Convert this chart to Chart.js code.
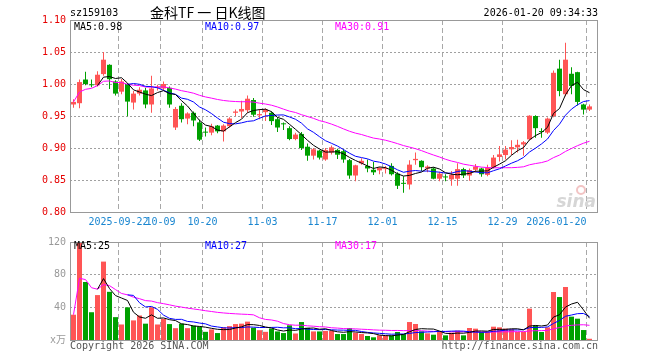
<!DOCTYPE html>
<html>
<head>
<meta charset="utf-8">
<title>金科TF 日K线图</title>
<script src="https://cdn.jsdelivr.net/npm/chart.js@4.4.1/dist/chart.umd.min.js"></script>
<style>
    body {margin: 0; background: #fff;}
    #wrap {position: relative; width: 660px; height: 360px;}
    canvas {position: absolute; left: 0;}
    #kline {top: 0;}
    #vol {top: 232px;}
</style>
</head>
<body>
<div id="wrap">
    <canvas id="kline" width="660" height="232"></canvas>
    <canvas id="vol" width="660" height="128"></canvas>
</div>
<script>
"use strict";

const dates = [
    "2025-09-10", "2025-09-11", "2025-09-12", "2025-09-15", "2025-09-16", "2025-09-17", "2025-09-18", "2025-09-19",
    "2025-09-22", "2025-09-23", "2025-09-24", "2025-09-25", "2025-09-26", "2025-09-29", "2025-09-30",
    "2025-10-09", "2025-10-10", "2025-10-13", "2025-10-14", "2025-10-15", "2025-10-16", "2025-10-17",
    "2025-10-20", "2025-10-21", "2025-10-22", "2025-10-23", "2025-10-24", "2025-10-27", "2025-10-28",
    "2025-10-29", "2025-10-30", "2025-10-31",
    "2025-11-03", "2025-11-04", "2025-11-05", "2025-11-06", "2025-11-07", "2025-11-10", "2025-11-11",
    "2025-11-12", "2025-11-13", "2025-11-14", "2025-11-17", "2025-11-18", "2025-11-19", "2025-11-20",
    "2025-11-21", "2025-11-24", "2025-11-25", "2025-11-26", "2025-11-27", "2025-11-28",
    "2025-12-01", "2025-12-02", "2025-12-03", "2025-12-04", "2025-12-05", "2025-12-08", "2025-12-09",
    "2025-12-10", "2025-12-11", "2025-12-12", "2025-12-15", "2025-12-16", "2025-12-17", "2025-12-18",
    "2025-12-19", "2025-12-22", "2025-12-23", "2025-12-24", "2025-12-25", "2025-12-26", "2025-12-29",
    "2025-12-30", "2025-12-31",
    "2026-01-05", "2026-01-06", "2026-01-07", "2026-01-08", "2026-01-09", "2026-01-12", "2026-01-13",
    "2026-01-14", "2026-01-15", "2026-01-16", "2026-01-19", "2026-01-20"
];

const opens = [
    .968, .970, 1.007, .999, .998, 1.0155, 1.030, 1.004, .988, 1.000,
    .971, .985, .990, .968, .994, .993, .994, .932, .966, .946,
    .955, .940, .925, .924, .935, .926, .934, .955, .957, .959,
    .975, .951, .956, .955, .945, .938, .931, .914, .922, .902,
    .888, .896, .882, .893, .897, .895, .881, .857, .876, .872,
    .866, .865, .867, .872, .860, .845, .843, .881, .880, .868,
    .868, .852, .855, .851, .852, .867, .857, .866, .868, .858,
    .870, .886, .889, .898, .901, .9055, .9135, .950, .926, .924,
    .950, 1.024, .984, 1.016, 1.0185, .968, .960
];
const closes = [
    .972, 1.003, 1.000, .998, 1.0145, 1.038, 1.0075, .985, 1.004, .9725,
    .985, .991, .968, .993, .996, 1.000, .968, .961, .945, .954,
    .943, .913, .924, .934, .926, .935, .946, .957, .961, .977,
    .952, .953, .960, .942, .932, .937, .914, .921, .900, .888,
    .898, .885, .897, .901, .8895, .882, .857, .873, .880, .868,
    .862, .869, .868, .859, .841, .844, .874, .883, .870, .871,
    .852, .860, .854, .858, .867, .857, .8655, .871, .859, .869,
    .885, .890, .8975, .9015, .905, .909, .9505, .931, .925, .946,
    1.0175, .989, 1.038, .997, .972, .960, .965
];
const highs = [
    .976, 1.007, 1.019, 1.007, 1.020, 1.050, 1.031, 1.006, 1.008, 1.001,
    .989, .995, .994, 1.013, .999, 1.004, .996, .964, .970, .956,
    .957, .944, .932, .938, .936, .937, .948, .960, .974, .982,
    .978, .961, .962, .957, .948, .940, .934, .924, .925, .907,
    .900, .897, .900, .904, .899, .898, .883, .874, .884, .882,
    .878, .870, .872, .876, .862, .856, .881, .893, .881, .873,
    .870, .863, .859, .864, .876, .869, .868, .875, .869, .874,
    .889, .903, .903, .912, .913, .911, .951, .951, .931, .9475,
    1.021, 1.038, 1.0645, 1.026, 1.019, .969, .968
];
const lows = [
    .963, .962, .998, .995, .996, 1.013, .992, .982, .984, .9495,
    .960, .982, .962, .955, .990, .989, .963, .928, .940, .937,
    .934, .911, .918, .920, .923, .910, .932, .950, .947, .955,
    .949, .945, .942, .936, .925, .928, .912, .912, .897, .880,
    .882, .882, .880, .890, .883, .877, .852, .848, .874, .862,
    .858, .859, .860, .857, .836, .830, .835, .874, .864, .862,
    .851, .848, .848, .841, .841, .853, .849, .862, .855, .856,
    .868, .879, .882, .889, .893, .888, .912, .916, .916, .922,
    .948, .981, .981, .984, .9665, .9525, .958
];
// 成交量, 万
const volumes = [
    31, 120, 71, 34, 55, 96, 59, 28, 19, 40,
    24, 30, 20, 40, 19, 26, 19.5, 14.5, 20, 14.5,
    17.5, 16.5, 10, 13, 8.5, 15.5, 17, 19.5, 20, 22.5,
    15, 12, 10, 14, 10.5, 8.5, 18, 8, 22, 15,
    10.5, 10.5, 11, 11, 7.3, 7.3, 14.7, 9, 7.3, 4.9,
    3.3, 5.7, 5.7, 5.7, 9.8, 7.3, 22, 19.6, 10.6, 8.2,
    6.5, 9.8, 5.7, 9, 11.4, 5.7, 14.7, 13.9, 9.8, 9.8,
    16.3, 15.5, 13.9, 13.1, 9.8, 9.8, 38.4, 17.9, 9.8, 15.5,
    58.8, 52.6, 64.9, 28.6, 26.1, 12.2, 1.5
];

const tickDates = ["2025-09-22", "2025-10-09", "2025-10-20", "2025-11-03", "2025-11-17",
    "2025-12-01", "2025-12-15", "2025-12-29", "2026-01-20"];
const tickText = ["2025-09-22", "10-09", "10-20", "11-03", "11-17", "12-01", "12-15", "12-29", "2026-01-20"];
const priceTicks = [0.80, 0.85, 0.90, 0.95, 1.00, 1.05, 1.10];
const volTicks = [0, 40, 80, 120];

const priceLegend = ["MA5:0.98", "MA10:0.97", "MA30:0.91"];
const volLegend = ["MA5:25", "MA10:27", "MA30:17"];

const RED = "#ff5555";
const GREEN = "#00a000";
const MA_COLORS = ["#000000", "#0000ff", "#ff00ff"];
const MONO = '"DejaVu Sans Mono", "Noto Sans CJK SC", monospace';
const X_MIN = -3.5 / 6;
const X_MAX = X_MIN + 527 / 6;

const tickIdx = tickDates.map(d => dates.indexOf(d));

// moving averages of the plotted values, as drawn on the source chart
// (MA30 averages whatever is available before 30 days exist)
function movingAvg(values, n, partial) {
    return values.map((v, i) => {
        if (i < n - 1 && !partial) return null;
        const win = values.slice(Math.max(0, i - n + 1), i + 1);
        return win.reduce((a, b) => a + b, 0) / win.length;
    });
}

function candleColor(i) {
    return closes[i] < opens[i] ? GREEN : RED;
}

function maDatasets(values) {
    const avgs = [movingAvg(values, 5), movingAvg(values, 10), movingAvg(values, 30, true)];
    return avgs.map((a, k) => ({
        type: "line",
        data: a.map((y, i) => ({x: i, y: y})),
        borderColor: MA_COLORS[k],
        borderWidth: 1,
        pointRadius: 0,
        tension: 0,
        order: 0
    }));
}

function xAxis(showLabels) {
    return {
        type: "linear",
        min: X_MIN,
        max: X_MAX,
        offset: false,
        afterBuildTicks: scale => {
            // first tick sits on the frame, it only keeps the first date label centred
            scale.ticks = [{value: X_MIN}].concat(tickIdx.map(i => ({value: i - 0.5})));
        },
        afterFit: scale => { scale.height = 20; },
        grid: {display: false, drawTicks: false},
        border: {display: false},
        ticks: {
            display: showLabels,
            autoSkip: false,
            maxRotation: 0,
            minRotation: 0,
            align: "inner",
            padding: 4,
            color: "#1a86d0",
            font: {family: MONO, size: 10},
            callback: value => {
                const k = tickIdx.findIndex(i => Math.abs(i - 0.5 - value) < 0.01);
                return k < 0 ? "" : tickText[k];
            }
        }
    };
}

function yAxis(min, max, ticks, color, fmt) {
    return {
        min: min,
        max: max,
        afterBuildTicks: scale => { scale.ticks = ticks.map(v => ({value: v})); },
        afterFit: scale => { scale.width = 70; },
        grid: {display: false, drawTicks: false},
        border: {display: false},
        ticks: {padding: 4, color: color, font: {family: MONO, size: 10}, callback: fmt}
    };
}

const framePlugin = {
    id: "frame",
    beforeDatasetsDraw(chart, args, opts) {
        const ctx = chart.ctx;
        const a = chart.chartArea;
        const top = Math.round(a.top), bottom = Math.round(a.bottom);
        const left = Math.round(a.left), right = Math.round(a.right);
        const w = right - left, h = bottom - top;
        ctx.save();
        ctx.globalAlpha = 1;
        ctx.globalCompositeOperation = "source-over";
        // dashed date lines
        ctx.fillStyle = "#a8a8a8";
        tickIdx.forEach(i => {
            const px = Math.floor(left + (i - 0.5 - X_MIN) / (X_MAX - X_MIN) * w);
            for (let y = top; y < bottom; y += 8) {
                ctx.fillRect(px, y, 1, Math.min(5, bottom - y));
            }
        });
        // dotted value lines
        ctx.fillStyle = "#a0a0a0";
        const lo = opts.range[0], hi = opts.range[1];
        (opts.levels || []).forEach(v => {
            if (v <= lo || v >= hi) return;
            const py = Math.floor(bottom - (v - lo) / (hi - lo) * h);
            for (let x = left; x < right; x += 4) {
                ctx.fillRect(x, py, 2, 1);
            }
        });
        if (opts.logo) {
            ctx.fillStyle = "#d6d6d6";
            ctx.font = "italic bold 17px 'DejaVu Sans'";
            ctx.textAlign = "right";
            ctx.textBaseline = "alphabetic";
            ctx.fillText("sina", 596, 207);
            ctx.strokeStyle = "#f2c4c4";
            ctx.lineWidth = 2;
            ctx.beginPath();
            ctx.arc(581, 190, 4, 0, Math.PI * 2);
            ctx.stroke();
        }
        ctx.restore();
    },
    afterDraw(chart, args, opts) {
        const {ctx, chartArea: a} = chart;
        ctx.save();
        ctx.strokeStyle = "#999999";
        ctx.lineWidth = 1;
        ctx.strokeRect(Math.floor(a.left) + 0.5, Math.floor(a.top) + 0.5,
            Math.round(a.right - a.left), Math.round(a.bottom - a.top));
        ctx.textBaseline = "middle";
        (opts.texts || []).forEach(t => {
            ctx.font = t.font || "10px " + MONO;
            ctx.fillStyle = t.color;
            ctx.textAlign = t.align || "left";
            ctx.fillText(t.text, t.x, t.y);
        });
        ctx.restore();
    }
};

const common = {
    responsive: false,
    animation: false,
    devicePixelRatio: 1,
    events: [],
    plugins: {legend: {display: false}, tooltip: {enabled: false}}
};

new Chart(document.getElementById("kline"), {
    type: "bar",
    data: {
        datasets: maDatasets(closes).concat([
            {
                data: opens.map((o, i) => ({x: i, y: [o, closes[i]]})),
                backgroundColor: ctx => candleColor(ctx.dataIndex),
                barThickness: 5,
                maxBarThickness: 5,
                minBarLength: 1,
                grouped: false,
                inflateAmount: 0,
                order: 1
            },
            {
                data: lows.map((l, i) => ({x: i, y: [l, highs[i]]})),
                backgroundColor: ctx => candleColor(ctx.dataIndex),
                barThickness: 1,
                maxBarThickness: 1,
                grouped: false,
                inflateAmount: 0,
                order: 2
            }
        ])
    },
    options: Object.assign({}, common, {
        layout: {autoPadding: false, padding: {left: 0, right: 63, top: 20, bottom: 0}},
        scales: {
            x: xAxis(true),
            y: yAxis(0.80, 1.10, priceTicks, "#e60000", v => v.toFixed(2))
        },
        plugins: Object.assign({}, common.plugins, {
            frame: {
                logo: true,
                levels: priceTicks,
                range: [0.80, 1.10],
                texts: [
                    {text: "sz159103", x: 70, y: 13, color: "#000"},
                    {text: "金科TF 一 日K线图", x: 150, y: 13, color: "#000", font: "14px 'Noto Sans CJK SC'"},
                    {text: "2026-01-20 09:34:33", x: 598, y: 13, color: "#000", align: "right"},
                    {text: priceLegend[0], x: 74, y: 27, color: MA_COLORS[0]},
                    {text: priceLegend[1], x: 205, y: 27, color: MA_COLORS[1]},
                    {text: priceLegend[2], x: 335, y: 27, color: MA_COLORS[2]}
                ]
            }
        })
    }),
    plugins: [framePlugin]
});

new Chart(document.getElementById("vol"), {
    type: "bar",
    data: {
        datasets: maDatasets(volumes).concat([
            {
                data: volumes.map((v, i) => ({x: i, y: v})),
                backgroundColor: ctx => candleColor(ctx.dataIndex),
                barThickness: 5,
                maxBarThickness: 5,
                grouped: false,
                inflateAmount: 0,
                order: 1
            }
        ])
    },
    options: Object.assign({}, common, {
        layout: {autoPadding: false, padding: {left: 0, right: 63, top: 9, bottom: 0}},
        scales: {
            x: xAxis(false),
            y: yAxis(0, 120, volTicks, "#999999", v => v === 0 ? "x万" : String(v))
        },
        plugins: Object.assign({}, common.plugins, {
            frame: {
                levels: volTicks,
                range: [0, 120],
                texts: [
                    {text: volLegend[0], x: 74, y: 14, color: MA_COLORS[0]},
                    {text: volLegend[1], x: 205, y: 14, color: MA_COLORS[1]},
                    {text: volLegend[2], x: 335, y: 14, color: MA_COLORS[2]},
                    {text: "Copyright 2026 SINA.COM", x: 70, y: 114, color: "#555"},
                    {text: "http://finance.sina.com.cn", x: 598, y: 114, color: "#555", align: "right"}
                ]
            }
        })
    }),
    plugins: [framePlugin]
});
</script>
</body>
</html>
